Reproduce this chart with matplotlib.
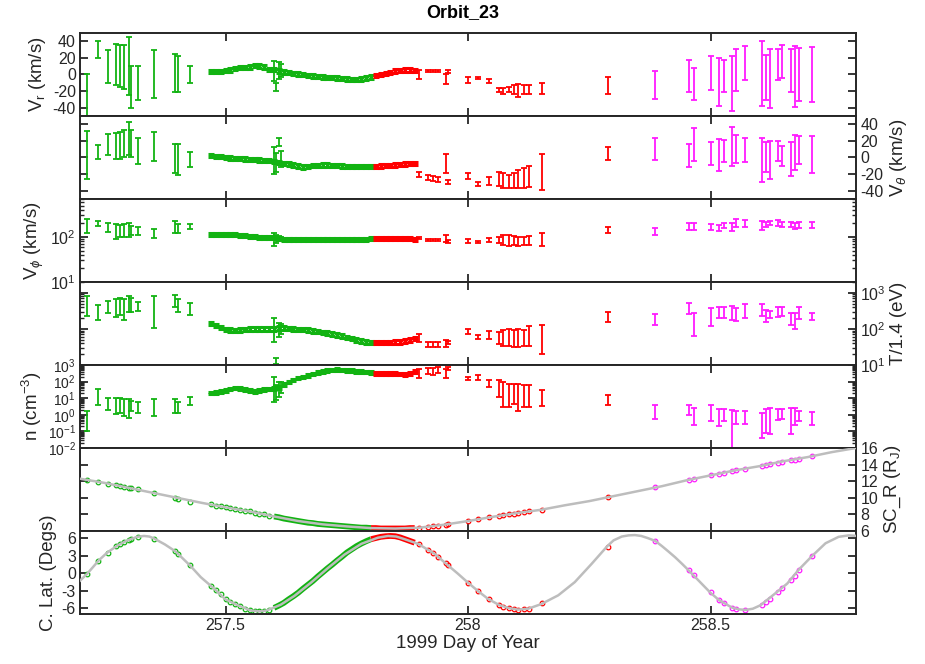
import numpy as np
import matplotlib
matplotlib.use("Agg")
import matplotlib.pyplot as plt
from matplotlib.ticker import FixedLocator, LogLocator, NullFormatter, NullLocator

plt.rcParams["font.family"] = ["Liberation Sans", "DejaVu Sans"]
plt.rcParams["mathtext.fontset"] = "custom"
plt.rcParams["mathtext.rm"] = "Liberation Sans"
plt.rcParams["mathtext.it"] = "Liberation Sans:italic"
plt.rcParams["mathtext.bf"] = "Liberation Sans:bold"
plt.rcParams["axes.unicode_minus"] = False

GREEN = "#12b312"
RED = "#ff0000"
MAGENTA = "#ff1aff"
GRAY = "#bdbdbd"
INK = "#262626"

# ---- sparse green samples (lo, hi) ----
green_t = [257.214, 257.238, 257.257, 257.274, 257.282, 257.291, 257.300,
           257.306, 257.319, 257.352, 257.396, 257.403, 257.426]
vr_green = [(-60, 1), (20, 40), (-10, 30), (-13, 37), (-15, 36), (-17, 36), (-25, 45),
            (-40, 10), (-31, 10), (-29, 30), (-21, 25), (-21, 22), (-10, 10)]
vt_green = [(-26, 32), (-2, 15), (3, 28), (-2, 29), (-2, 31), (1, 33), (3, 43),
            (1, 33), (-8, 23), (-4, 31), (-19, 16), (-21, 16), (-11, 7)]
vp_green = [(125, 247), (179, 227), (127, 201), (90, 191), (102, 185), (98, 195), (102, 201),
            (111, 175), (111, 170), (93, 151), (125, 227), (125, 191), (151, 191)]
te_green = [(225, 822), (174, 457), (269, 589), (214, 676), (240, 708), (174, 661), (295, 822),
            (295, 708), (316, 569), (105, 794), (407, 871), (295, 661), (240, 513)]
n_green = [(0.1, 1.7), (3.9, 34), (1.9, 9.8), (1.1, 9.8), (1.2, 9.8), (0.9, 9), (0.6, 9),
           (1.7, 7), (1.2, 6.2), (0.8, 9), (1.2, 9), (1.2, 6), (4, 11)]
r_green = [12.15, 11.9, 11.65, 11.5, 11.4, 11.3, 11.2, 11.15, 11.0, 10.55, 10.0, 9.9, 9.55]
lat_green = [-0.2, 2.1, 3.5, 4.6, 5.0, 5.4, 5.7, 5.9, 6.2, 5.9, 3.7, 3.2, 1.3]

# ---- disturbed green samples near 257.6 (lo, hi) ----
spike_t = [257.600, 257.605, 257.610, 257.615]
vr_spike = [(-8, 16), (-20, -10), (-5, 15), (-3, 12)]
vt_spike = [(-20, 12), (-18, 5), (13.6, 24), (-12, 8)]
vp_spike = [(64, 120), (75, 110), (80, 105), (82, 100)]
te_spike = [(43, 195), (10.5, 16), (60, 150), (70, 140)]
n_spike = [(5.6, 190), (8, 60), (12, 90), (20, 100)]

# ---- densely sampled stretch (centre values) ----
dense_t = [257.47, 257.48, 257.49, 257.50, 257.51, 257.52, 257.53, 257.54, 257.55,
           257.56, 257.57, 257.58, 257.59, 257.60, 257.61, 257.62, 257.63, 257.64,
           257.65, 257.66, 257.67, 257.68, 257.69, 257.70, 257.71, 257.72, 257.73,
           257.74, 257.75, 257.76, 257.77, 257.78, 257.79, 257.80, 257.81, 257.82,
           257.83, 257.84, 257.85, 257.86, 257.87, 257.88, 257.89]
red_start = 257.805
band_start = 257.595
vr_dense = [3.5, 3.5, 3.5, 4.5, 5.5, 7, 8, 8.5, 9, 11, 10, 9, 6, 6, 4, 3, 2, 1.5, 0.5, 0,
            -1, -2, -2.5, -3, -3.5, -4, -4.5, -5, -5.5, -6, -6, -5.5, -4.5, -3, -1.5, 0,
            1, 2.5, 4, 5, 5.5, 5.5, 5]
vt_dense = [2, 1.5, 1, 0, -0.5, -1, -1.5, -2, -2.5, -2.5, -3, -3.5, -4, -5, -6, -7, -8,
            -9, -10.5, -11.5, -11, -10, -9.5, -9, -9, -9.5, -10, -10.5, -11, -11, -11,
            -11, -11, -11, -11, -10.5, -10, -9.5, -9, -8.5, -8, -7.5, -7]
vp_dense = [112, 112, 112, 112, 112, 112, 110, 106, 103, 100, 98, 96, 96, 95, 92, 90, 89,
            88, 87, 86, 86, 86, 86, 86, 86, 86, 86, 87, 88, 89, 89, 90, 90, 91, 91, 91,
            91, 91, 91, 91, 91, 91, 90]
te_dense = [140, 125, 110, 95, 92, 90, 92, 95, 100, 100, 98, 100, 100, 100, 105, 105, 102,
            100, 97, 95, 92, 88, 85, 80, 76, 72, 68, 63, 58, 54, 50, 46, 43, 42, 42, 42,
            42, 42, 43, 44, 46, 50, 54]
n_dense = [20, 22, 26, 30, 36, 40, 38, 32, 28, 26, 28, 32, 35, 38, 45, 65, 95, 125, 160,
           190, 230, 280, 340, 400, 450, 500, 520, 510, 480, 450, 420, 400, 380, 340, 310,
           305, 300, 300, 295, 290, 275, 300, 400]
r_dense = [9.2, 9.05, 8.95, 8.85, 8.75, 8.65, 8.55, 8.45, 8.35, 8.2, 8.1, 8.0, 7.85, 7.75,
           7.65, 7.5, 7.4, 7.3, 7.2, 7.1, 7.0, 6.95, 6.85, 6.8, 6.75, 6.7, 6.65, 6.6, 6.55,
           6.5, 6.45, 6.4, 6.4, 6.35, 6.35, 6.3, 6.3, 6.3, 6.3, 6.3, 6.3, 6.35, 6.35]
lat_dense = [-2.2, -2.9, -3.6, -4.4, -4.9, -5.3, -5.7, -6.1, -6.35, -6.5, -6.55, -6.45,
             -6.25, -5.95, -5.55, -5.1, -4.5, -3.95, -3.35, -2.65, -2.0, -1.35, -0.6, 0.1,
             0.8, 1.45, 2.15, 2.8, 3.5, 4.05, 4.6, 5.05, 5.45, 5.8, 6.0, 6.2, 6.3, 6.35,
             6.3, 6.1, 5.8, 5.5, 5.2]
vr_dense_err = 2.0
vt_dense_err = 2.0
vp_dense_err = 0.08
te_dense_err = 0.12
n_dense_err = 0.2

# ---- sparse red samples (lo, hi) ----
red_t = [257.898, 257.918, 257.928, 257.938, 257.954, 257.959, 258.000, 258.021, 258.044,
         258.063, 258.073, 258.084, 258.094, 258.104, 258.115, 258.125, 258.153, 258.288]
vr_red = [(-5, 5), (2.5, 5.5), (2.5, 5.5), (2.5, 5.5), (-11, 0), (2, 5), (-10, -3), (-6, -3),
          (-10, -6), (-21, -16), (-23, -16), (-21, -15), (-23, -13), (-27, -11), (-23, -13),
          (-23, -13), (-23, -10), (-23, -3)]
vt_red = [(-23, -18), (-27, -21), (-28, -22), (-29, -23), (-19, 4), (-32, -27), (-26, -19),
          (-34, -29), (-33, -24), (-35, -17), (-37, -19), (-37, -21), (-37, -19), (-37, -15),
          (-37, -13), (-36, -10), (-39, 4), (-3, 13)]
vp_red = [(88, 98), (82, 90), (82, 90), (82, 90), (76, 111), (72, 86), (75, 89), (75, 83),
          (79, 96), (72, 102), (66, 111), (63, 111), (66, 105), (63, 102), (66, 102),
          (66, 105), (63, 125), (125, 170)]
te_red = [(43, 73), (31, 43), (31, 43), (31, 43), (31, 50), (38, 46), (73, 100), (53, 66),
          (53, 87), (38, 81), (34, 91), (34, 100), (32, 91), (32, 100), (34, 91), (34, 118),
          (20, 126), (155, 295)]
n_red = [(170, 540), (300, 700), (260, 650), (350, 750), (160, 560), (500, 800), (120, 190),
         (120, 245), (47, 120), (11.5, 120), (2.8, 95), (2.8, 76), (4.5, 76), (1.7, 76),
         (2.8, 59), (2.8, 59), (3.5, 30), (3.9, 14.5)]
r_red = [6.4, 6.5, 6.55, 6.65, 6.75, 6.8, 7.2, 7.4, 7.65, 7.8, 7.9, 8.0, 8.1, 8.2, 8.3,
         8.35, 8.55, 10.1]
lat_red = [5.0, 4.0, 3.5, 2.8, 1.7, 1.3, -1.65, -3.1, -4.4, -5.4, -5.8, -6.0, -6.2, -6.25,
           -6.2, -6.1, -5.2, 4.5]

# ---- sparse magenta samples (lo, hi) ----
mag_t = [258.385, 258.456, 258.466, 258.500, 258.518, 258.527, 258.545, 258.553, 258.572,
         258.605, 258.614, 258.622, 258.639, 258.648, 258.665, 258.674, 258.683, 258.710]
vr_mag = [(-29.5, 4), (-21.4, 17.8), (-30.3, 7.7), (-18.6, 22.2), (-37.6, 19.8), (-21.4, 17),
          (-44.4, 22.2), (-19.4, 31), (-7.3, 34.3), (-37.6, 40.4), (-30.3, 23), (-40.8, 30.3),
          (-7.3, 31), (-4, 36), (-21.4, 31), (-39.6, 34.3), (-32.3, 32), (-33.5, 33)]
vt_mag = [(-3, 24), (-11, 16), (-4, 35), (-9, 19), (-16, 22), (-6, 21), (-10, 37), (-7, 27),
          (-6, 24), (-29, 23), (-18, 19), (-26, 20), (-4, 20), (-10, 14), (-22, 19),
          (-15, 27), (-8, 26), (-19, 26)]
vp_mag = [(111, 156), (143, 201), (143, 201), (143, 195), (135, 185), (156, 208), (135, 201),
          (170, 247), (170, 239), (143, 231), (164, 212), (185, 231), (175, 239), (164, 219),
          (164, 212), (148, 201), (156, 212), (156, 212)]
te_mag = [(126, 251), (257, 513), (62, 279), (117, 372), (195, 398), (195, 398), (174, 427),
          (166, 372), (195, 479), (224, 501), (155, 331), (200, 309), (214, 398), (224, 398),
          (126, 279), (100, 279), (186, 398), (174, 279)]
n_mag = [(0.54, 3.9), (1.0, 3.9), (0.23, 2.7), (0.43, 3.9), (0.21, 2.2), (0.43, 2.2),
         (0.01, 1.9), (0.26, 1.7), (0.26, 1.7), (0.04, 1.2), (0.08, 2.2), (0.065, 2.4),
         (0.47, 2.2), (0.54, 2.2), (0.065, 2.4), (0.24, 2.7), (0.4, 1.7), (0.23, 1.4)]
r_mag = [11.3, 12.2, 12.3, 12.7, 12.9, 13.0, 13.25, 13.3, 13.5, 13.85, 13.95, 14.05, 14.2,
         14.3, 14.5, 14.6, 14.7, 15.0]
lat_mag = [5.5, 0.6, -0.3, -3.3, -4.6, -5.1, -5.9, -6.1, -6.3, -5.4, -5.0, -4.4, -3.2, -2.5,
           -1.2, -0.5, 0.6, 3.0]

# ---- spacecraft trajectory (grey lines) ----
traj_r_t = [257.20, 257.25, 257.30, 257.35, 257.40, 257.45, 257.50, 257.55, 257.60, 257.65,
            257.70, 257.75, 257.80, 257.85, 257.90, 257.95, 258.00, 258.05, 258.10, 258.15,
            258.20, 258.25, 258.30, 258.35, 258.40, 258.45, 258.50, 258.55, 258.60, 258.65,
            258.70, 258.75, 258.80]
traj_r = [12.3, 11.8, 11.2, 10.6, 10.0, 9.4, 8.85, 8.35, 7.75, 7.2, 6.8, 6.55, 6.35, 6.3,
          6.4, 6.75, 7.2, 7.7, 8.15, 8.55, 9.1, 9.6, 10.2, 10.8, 11.4, 12.1, 12.7, 13.3,
          13.8, 14.4, 14.9, 15.5, 16.0]
traj_lat_t = [257.200, 257.215, 257.239, 257.256, 257.277, 257.298, 257.318, 257.332,
              257.343, 257.353, 257.375, 257.397, 257.428, 257.449, 257.477, 257.500,
              257.525, 257.552, 257.570, 257.582, 257.594, 257.614, 257.642, 257.676,
              257.711, 257.745, 257.780, 257.814, 257.835, 257.852, 257.869, 257.897,
              257.931, 257.959, 257.979, 258.000, 258.021, 258.041, 258.065, 258.085,
              258.103, 258.124, 258.151, 258.186, 258.220, 258.255, 258.287, 258.300,
              258.317, 258.331, 258.344, 258.357, 258.370, 258.386, 258.400, 258.413,
              258.427, 258.441, 258.455, 258.465, 258.499, 258.517, 258.544, 258.558,
              258.572, 258.587, 258.603, 258.630, 258.658, 258.682, 258.709, 258.737,
              258.764, 258.785, 258.802]
traj_lat = [-1.3, -0.1, 2.2, 3.5, 4.7, 5.6, 6.2, 6.35, 6.25, 5.9, 4.9, 3.7, 1.2, -0.7, -2.7,
            -4.5, -5.5, -6.4, -6.55, -6.45, -6.1, -5.4, -3.9, -1.65, 0.85, 3.15, 5.0, 6.05,
            6.35, 6.25, 5.8, 5.0, 3.3, 1.3, -0.1, -1.65, -3.1, -4.4, -5.5, -6.0, -6.25, -6.1,
            -5.3, -3.8, -1.55, 1.6, 4.6, 5.6, 6.25, 6.45, 6.5, 6.35, 6.0, 5.5, 4.6, 3.7, 2.7,
            1.6, 0.45, -0.4, -3.3, -4.6, -5.9, -6.2, -6.3, -6.1, -5.5, -3.7, -1.8, 0.6, 2.9,
            5.1, 6.2, 6.45, 6.35]

x_ticks = [257.5, 258.0, 258.5]
x_tick_labels = ["257.5", "258", "258.5"]

LW = 1.3
CAP = 2.2


def split(pairs, log):
    lo = np.array([p[0] for p in pairs], float)
    hi = np.array([p[1] for p in pairs], float)
    mid = np.sqrt(lo * hi) if log else (lo + hi) / 2
    return mid, lo, hi


def bars(ax, t, pairs, color, log=False, lw=LW, cap=CAP):
    mid, lo, hi = split(pairs, log)
    ax.errorbar(t, mid, yerr=[mid - lo, hi - mid], fmt="none", ecolor=color,
                elinewidth=lw, capsize=cap, capthick=lw)


def dense_bars(ax, vals, err, log=False):
    t = np.array(dense_t)
    v = np.array(vals, float)
    if log:
        pairs = list(zip(v / (1 + err), v * (1 + err)))
    else:
        pairs = list(zip(v - err, v + err))
    green = t < red_start
    bars(ax, t[green], [p for p, g in zip(pairs, green) if g], GREEN, log, lw=2.2, cap=2.5)
    bars(ax, t[~green], [p for p, g in zip(pairs, green) if not g], RED, log, lw=2.2, cap=2.5)


def style(ax, side, log=False):
    for s in ax.spines.values():
        s.set_color(INK)
        s.set_linewidth(1.4)
    ax.set_xlim(257.2, 258.8)
    ax.xaxis.set_major_locator(FixedLocator(x_ticks))
    ax.tick_params(axis="both", which="major", direction="in", length=5.5, width=1.3,
                   colors=INK, labelsize=11.5, pad=3, top=True, bottom=True, left=True,
                   right=True)
    ax.tick_params(axis="both", which="minor", direction="in", length=3, width=1.0,
                   colors=INK, left=True, right=True)
    ax.tick_params(axis="x", labelbottom=False)
    ax.tick_params(axis="y", labelleft=(side == "left"), labelright=(side == "right"))
    if side == "right":
        ax.yaxis.set_label_position("right")
    if log:
        ax.yaxis.set_minor_locator(LogLocator(base=10, subs=np.arange(2, 10), numticks=20))
        ax.yaxis.set_minor_formatter(NullFormatter())
    else:
        ax.yaxis.set_minor_locator(NullLocator())


fig = plt.figure(figsize=(9.25, 6.64), dpi=100)
left, width = 0.0865, 0.839
bottom0, height = 0.0753, 0.12502
axes = [fig.add_axes([left, bottom0 + (6 - i) * height, width, height]) for i in range(7)]
ax_vr, ax_vt, ax_vp, ax_te, ax_n, ax_r, ax_lat = axes

panels = [
    (ax_vr, vr_green, vr_spike, vr_dense, vr_dense_err, vr_red, vr_mag, False),
    (ax_vt, vt_green, vt_spike, vt_dense, vt_dense_err, vt_red, vt_mag, False),
    (ax_vp, vp_green, vp_spike, vp_dense, vp_dense_err, vp_red, vp_mag, True),
    (ax_te, te_green, te_spike, te_dense, te_dense_err, te_red, te_mag, True),
    (ax_n, n_green, n_spike, n_dense, n_dense_err, n_red, n_mag, True),
]
for ax, g, sp, dv, de, rd, mg, log in panels:
    if log:
        ax.set_yscale("log")
    bars(ax, green_t, g, GREEN, log)
    dense_bars(ax, dv, de, log)
    bars(ax, spike_t, sp, GREEN, log)
    bars(ax, red_t, rd, RED, log)
    bars(ax, mag_t, mg, MAGENTA, log)

# trajectory panels
dt = np.array(dense_t)
gmask = dt < red_start
band = dt >= band_start
red_band = band & (dt >= dt[gmask].max())
for ax, gvals, dvals, rvals, mvals, tt, tv in [
        (ax_r, r_green, r_dense, r_red, r_mag, traj_r_t, traj_r),
        (ax_lat, lat_green, lat_dense, lat_red, lat_mag, traj_lat_t, traj_lat)]:
    dv = np.array(dvals)
    ax.plot(dt[band & gmask], dv[band & gmask], color=GREEN, lw=4.2, solid_capstyle="butt")
    ax.plot(dt[red_band], dv[red_band], color=RED, lw=4.2, solid_capstyle="butt")
    mk = dict(ls="none", marker="o", ms=3.3, mfc="none", mew=0.9)
    ax.plot(green_t, gvals, mec=GREEN, **mk)
    ax.plot(dt[gmask & ~band], dv[gmask & ~band], mec=GREEN, **mk)
    ax.plot(red_t, rvals, mec=RED, **mk)
    ax.plot(mag_t, mvals, mec=MAGENTA, **mk)
    ax.plot(tt, tv, color=GRAY, lw=1.8, zorder=5)

# axis ranges and labels
ax_vr.set_ylim(-50, 50)
ax_vr.set_yticks([-40, -20, 0, 20, 40])
ax_vt.set_ylim(-50, 50)
ax_vt.set_yticks([-40, -20, 0, 20, 40])
ax_vp.set_ylim(10, 700)
ax_vp.yaxis.set_major_locator(FixedLocator([10, 100]))
ax_te.set_ylim(10, 2000)
ax_te.yaxis.set_major_locator(FixedLocator([10, 100, 1000]))
ax_n.set_ylim(1e-2, 1e3)
ax_n.yaxis.set_major_locator(FixedLocator([1e-2, 1e-1, 1e0, 1e1, 1e2, 1e3]))
ax_r.set_ylim(6, 16)
ax_r.set_yticks([6, 8, 10, 12, 14, 16])
ax_lat.set_ylim(-7, 7.2)
ax_lat.set_yticks([-6, -3, 0, 3, 6])

sides = ["left", "right", "left", "right", "left", "right", "left"]
logs = [False, False, True, True, True, False, False]
for ax, side, log in zip(axes, sides, logs):
    style(ax, side, log)
ax_n.tick_params(axis="y", which="major", labelsize=10)

ylabels = [r"V$_\mathrm{r}$ (km/s)", r"V$_\theta$ (km/s)", r"V$_\phi$ (km/s)",
           "T/1.4 (eV)", r"n (cm$^{-3}$)", r"SC_R (R$_\mathrm{J}$)", "C. Lat. (Degs)"]
for ax, lab in zip(axes, ylabels):
    ax.set_ylabel(lab, fontsize=13.5, color=INK, labelpad=3)

ax_lat.tick_params(axis="x", labelbottom=True)
ax_lat.set_xticklabels(x_tick_labels)
ax_lat.set_xlabel("1999 Day of Year", fontsize=13.5, color=INK, labelpad=1)

fig.text(0.5, 0.981, "Orbit_23", ha="center", va="center", fontsize=13,
         fontweight="bold", color="black")

fig.savefig("out.png", dpi=100)
